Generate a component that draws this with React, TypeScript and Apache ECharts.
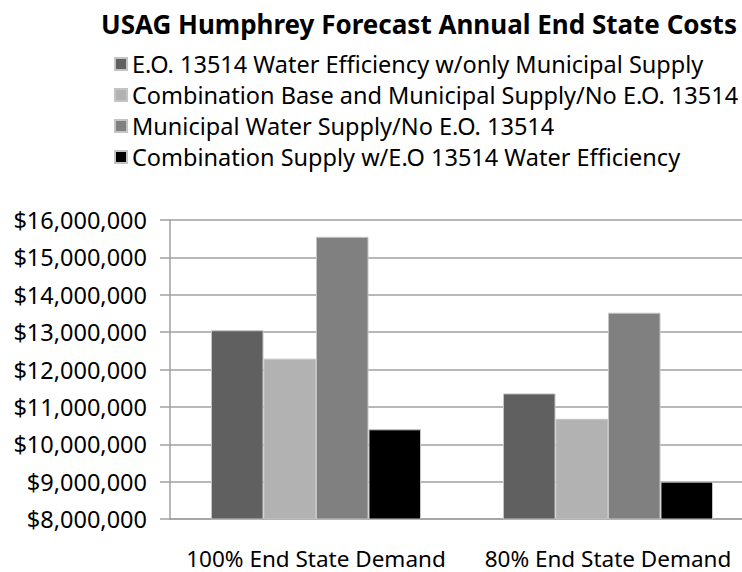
import React, { useEffect, useRef } from "react";
import * as echarts from "echarts";

const categories = ["100% End State Demand", "80% End State Demand"];
const seriesNames = [
  "E.O. 13514 Water Efficiency w/only Municipal Supply",
  "Combination Base and Municipal Supply/No E.O. 13514",
  "Municipal Water Supply/No E.O. 13514",
  "Combination Supply w/E.O 13514 Water Efficiency",
];
const eoMunicipal = [13050000, 11360000];
const comboBaseMunicipal = [12290000, 10680000];
const municipalOnly = [15550000, 13520000];
const comboEO = [10400000, 9000000];
const seriesColors = ["#606060", "#b2b2b2", "#808080", "#000000"];
const yMin = 8000000;
const yMax = 16000000;
const yInterval = 1000000;

const FONT = "'Noto Sans', 'Open Sans', sans-serif";

export default function App() {
  const ref = useRef<HTMLDivElement>(null);
  useEffect(() => {
    if (!ref.current) return;
    const chart = echarts.init(ref.current, undefined, { renderer: "svg" });
    const values = [eoMunicipal, comboBaseMunicipal, municipalOnly, comboEO];
    chart.setOption({
      animation: false,
      backgroundColor: "#ffffff",
      textStyle: { fontFamily: FONT },
      title: {
        text: "USAG Humphrey Forecast Annual End State Costs",
        left: 101,
        top: 10,
        padding: 0,
        textStyle: { fontFamily: FONT, fontSize: 26, lineHeight: 28, fontWeight: "bold", color: "#000" },
      },
      legend: {
        orient: "vertical",
        left: 114,
        top: 52,
        padding: 0,
        itemWidth: 12,
        itemHeight: 12,
        itemGap: 7,
        icon: "rect",
        data: seriesNames,
        textStyle: { fontFamily: FONT, fontSize: 23.5, lineHeight: 23, color: "#000" },
      },
      grid: { left: 170, top: 220, width: 584, height: 299, containLabel: false },
      xAxis: {
        type: "category",
        data: categories,
        axisLine: { show: true, lineStyle: { color: "#a0a0a0", width: 1.5 } },
        axisTick: { show: false },
        axisLabel: { interval: 0, fontFamily: FONT, fontSize: 22.5, lineHeight: 22, color: "#000", margin: 28 },
      },
      yAxis: {
        type: "value",
        min: yMin,
        max: yMax,
        interval: yInterval,
        axisLine: { show: true, lineStyle: { color: "#a0a0a0", width: 1.5 } },
        axisTick: { show: true, inside: false, length: 10, lineStyle: { color: "#a0a0a0", width: 1.5 } },
        splitLine: { show: true, lineStyle: { color: "#a0a0a0", width: 1.5 } },
        axisLabel: {
          fontFamily: FONT,
          fontSize: 23.5,
          color: "#000",
          margin: 23,
          formatter: (v: number) => "$" + v.toLocaleString("en-US"),
        },
      },
      series: seriesNames.map((name, i) => ({
        name,
        type: "bar",
        data: values[i],
        barWidth: 52.5,
        barGap: "0%",
        itemStyle: { color: seriesColors[i], borderColor: "#c4c4c4", borderWidth: 1 },
      })),
    });
    return () => chart.dispose();
  }, []);
  return (
    <div style={{ position: "absolute", left: 0, top: 0, width: 742, height: 572, overflow: "hidden" }}>
      <div ref={ref} style={{ width: 770, height: 572 }} />
    </div>
  );
}
